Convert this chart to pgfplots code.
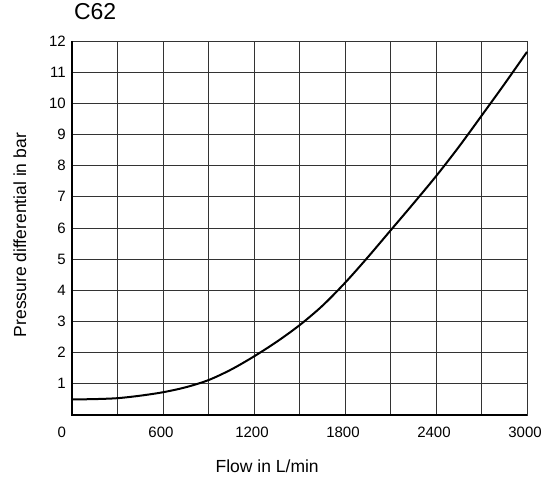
\documentclass[border=0pt]{standalone}
\usepackage{pgfplots}
\pgfplotsset{compat=1.18}
\usepackage{fontspec}
\setmainfont{Liberation Sans}
\begin{document}
\begin{tikzpicture}
\begin{axis}[
  scale only axis,
  width=455bp, height=374bp,
  xmin=0, xmax=3000, ymin=0, ymax=12,
  xtick={0,600,...,3000},
  minor xtick={300,900,...,2700},
  xticklabels={\makebox[0pt][r]{0\hspace{4bp}},600,1200,1800,2400,3000},
  ytick={1,...,12},
  grid=both,
  major grid style={black!80, line width=0.8bp},
  minor grid style={black!80, line width=0.8bp},
  axis line style={black!80, line width=0.8bp},
  major tick length=0pt, minor tick length=0pt,
  tick style={draw=none},
  /pgf/number format/assume math mode=true,
  /pgf/number format/1000 sep={},
  ticklabel style={font=\fontsize{15bp}{17bp}\selectfont},
  xticklabel style={anchor=north, inner sep=0pt, yshift=-12bp, xshift=-2bp},
  yticklabel style={anchor=east, inner sep=0pt, xshift=-6bp},
  xlabel={Flow in L/min},
  ylabel={Pressure differential in bar},
  label style={font=\fontsize{17.5bp}{20bp}\selectfont},
  xlabel style={at={(axis description cs:0.429,-0.1377)}, anchor=center, inner sep=0pt},
  ylabel style={at={(axis description cs:-0.1143,0.481)}, anchor=center, inner sep=0pt},
  title={C62},
  title style={at={(axis description cs:0.004,1.0428)}, anchor=base west, inner sep=0pt, font=\fontsize{23bp}{26bp}\selectfont},
  clip=false,
]
\addplot[black, line width=2bp, smooth] coordinates {
  (0,0.50) (150,0.51) (300,0.54) (450,0.62) (600,0.73) (750,0.89) (900,1.12)
  (1050,1.46) (1200,1.88) (1350,2.35) (1500,2.88) (1650,3.50) (1800,4.24)
  (1950,5.06) (2100,5.92) (2250,6.78) (2400,7.66) (2550,8.6) (2700,9.6)
  (2850,10.61) (3000,11.65)
};
\draw[black, line width=2.2bp] (rel axis cs:0,1) -- (rel axis cs:0,0) -- (rel axis cs:1,0);
\coordinate (O) at (rel axis cs:0,0);
\end{axis}
\path (O) ++(-72bp,-65bp) rectangle ++(553bp,480bp);
\end{tikzpicture}
\end{document}
